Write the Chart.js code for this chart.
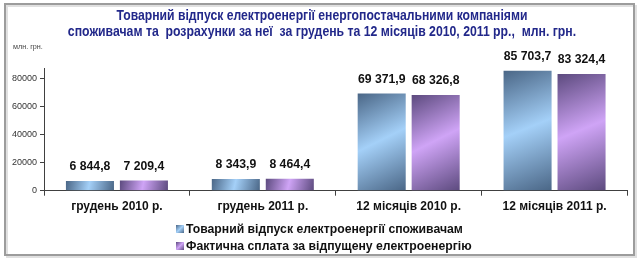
<!DOCTYPE html>
<html>
<head>
<meta charset="utf-8">
<script src="https://cdn.jsdelivr.net/npm/chart.js@4.4.0/dist/chart.umd.min.js"></script>
<style>
  html, body { margin: 0; padding: 0; background: #fff; }
  #wrap { position: relative; width: 643px; height: 261px; }
</style>
</head>
<body>
<div id="wrap"><canvas id="chart" width="643" height="261"></canvas></div>
<script>
// Data
const categories = ['грудень 2010 р.', 'грудень 2011 р.', '12 місяців 2010 р.', '12 місяців 2011 р.'];
const supplied = [6844.8, 8343.9, 69371.9, 85703.7];
const paid = [7209.4, 8464.4, 68326.8, 83324.4];
const seriesNames = ['Товарний відпуск електроенергії споживачам', 'Фактична сплата за відпущену електроенергію'];
const yTicks = [0, 20000, 40000, 60000, 80000];
const titleLines = [
  'Товарний відпуск електроенергії енергопостачальними компаніями',
  'споживачам та  розрахунки за неї  за грудень та 12 місяців 2010, 2011 рр.,  млн. грн.'
];
const unitLabel = 'млн. грн.';

const FONT = "'Liberation Sans', Arial, sans-serif";
const BAR_PCT = 0.89, CAT_PCT = 0.74;

const palettes = [
  { dark: '#4a6686', light: '#a4d0f8' },
  { dark: '#5c4a7e', light: '#cfa4f6' }
];

// format numbers like "6 844,8"
function fmt(v) {
  const parts = v.toFixed(1).split('.');
  const int = parts[0].replace(/\B(?=(\d{3})+(?!\d))/g, ' ');
  return int + ',' + parts[1];
}

// diagonal gradient inside each bar, box taken from the scales
function barFill(dsIndex) {
  return function(ctx) {
    const chart = ctx.chart;
    const pal = palettes[dsIndex];
    const xs = chart.scales.x, ys = chart.scales.y;
    if (!chart.chartArea || ctx.type !== 'data' || !xs || !ys) return pal.light;
    const catW = xs.width / categories.length;
    const slot = catW * CAT_PCT / 2;
    const w = slot * BAR_PCT;
    const cx = xs.getPixelForValue(ctx.dataIndex) + (dsIndex - 0.5) * slot;
    const y0 = ys.getPixelForValue(ctx.raw), y1 = ys.getPixelForValue(0);
    if (!isFinite(cx) || !isFinite(y0)) return pal.light;
    const g = chart.ctx.createLinearGradient(cx - w / 2, y0, cx + w / 2, y1);
    g.addColorStop(0, pal.dark);
    g.addColorStop(0.48, pal.light);
    g.addColorStop(1, pal.dark);
    return g;
  };
}

const framePlugin = {
  id: 'frame',
  beforeDraw(chart) {
    const c = chart.ctx;
    c.save();
    c.fillStyle = '#fff';
    c.fillRect(0, 0, chart.width, chart.height);
    c.strokeStyle = 'rgba(0,0,0,0.12)';
    c.lineWidth = 2;
    c.strokeRect(7, 6, 629, 251);
    c.strokeStyle = '#9c9c9c';
    c.lineWidth = 2;
    c.strokeRect(5, 4, 629, 251);
    c.restore();
  }
};

// text drawn squeezed sideways to mimic a narrow font
function squeezed(c, text, x, y, sx) {
  c.save();
  c.translate(x, y);
  c.scale(sx, 1);
  c.fillText(text, 0, 0);
  c.restore();
}

const textPlugin = {
  id: 'texts',
  afterDatasetsDraw(chart) {
    const c = chart.ctx;
    c.save();
    // title
    c.fillStyle = '#22288a';
    c.font = 'bold 14px ' + FONT;
    c.textAlign = 'center';
    c.textBaseline = 'middle';
    squeezed(c, titleLines[0], 322, 16, 0.87);
    squeezed(c, titleLines[1], 322, 32, 0.875);

    // unit label
    c.fillStyle = '#444';
    c.font = '8px ' + FONT;
    c.textAlign = 'left';
    squeezed(c, unitLabel, 13, 47, 0.9);

    // value labels above bars
    c.fillStyle = '#111';
    c.font = 'bold 13px ' + FONT;
    c.textAlign = 'center';
    c.textBaseline = 'bottom';
    chart.data.datasets.forEach((ds, i) => {
      chart.getDatasetMeta(i).data.forEach((bar, j) => {
        squeezed(c, fmt(ds.data[j]), bar.x, bar.y - 8, 0.94);
      });
    });

    // legend
    c.textBaseline = 'middle';
    c.textAlign = 'left';
    c.font = 'bold 13px ' + FONT;
    const rows = [229, 246];
    chart.data.datasets.forEach((ds, i) => {
      const y = rows[i];
      const pal = palettes[i];
      const g = c.createLinearGradient(176, y - 4, 184, y + 4);
      g.addColorStop(0, pal.dark);
      g.addColorStop(0.5, pal.light);
      g.addColorStop(1, pal.dark);
      c.fillStyle = g;
      c.fillRect(176, y - 4, 8, 8);
      c.fillStyle = '#111';
      squeezed(c, ds.label, 186, y, 0.94);
    });
    c.restore();
  }
};

new Chart(document.getElementById('chart'), {
  type: 'bar',
  data: {
    labels: categories,
    datasets: [
      { label: seriesNames[0], data: supplied, backgroundColor: barFill(0) },
      { label: seriesNames[1], data: paid, backgroundColor: barFill(1) }
    ]
  },
  options: {
    responsive: false,
    animation: false,
    devicePixelRatio: 1,
    layout: { padding: { left: 6, right: 15.5, top: 68.3, bottom: 40 } },
    datasets: {
      bar: { barPercentage: BAR_PCT, categoryPercentage: CAT_PCT, borderWidth: 0 }
    },
    plugins: {
      legend: { display: false },
      title: { display: false },
      tooltip: { enabled: false }
    },
    scales: {
      x: {
        afterFit(scale) { scale.height = 30.3; },
        grid: { drawOnChartArea: false, drawTicks: true, tickLength: 5, color: '#404040' },
        border: { display: true, color: '#404040' },
        ticks: {
          color: '#111',
          padding: 4,
          font: { family: FONT, size: 12, weight: 'bold' },
          maxRotation: 0
        }
      },
      y: {
        min: 0,
        max: 87400,
        afterFit(scale) { scale.width = 38; },
        afterBuildTicks(scale) {
          scale.ticks = yTicks.map(v => ({ value: v }));
        },
        grid: { drawOnChartArea: false, drawTicks: true, tickLength: 4, color: '#404040' },
        border: { display: true, color: '#404040' },
        ticks: {
          color: '#333',
          padding: 3,
          autoSkip: false,
          font: { family: FONT, size: 9 },
          callback: v => String(v)
        }
      }
    }
  },
  plugins: [framePlugin, textPlugin]
});
</script>
</body>
</html>
